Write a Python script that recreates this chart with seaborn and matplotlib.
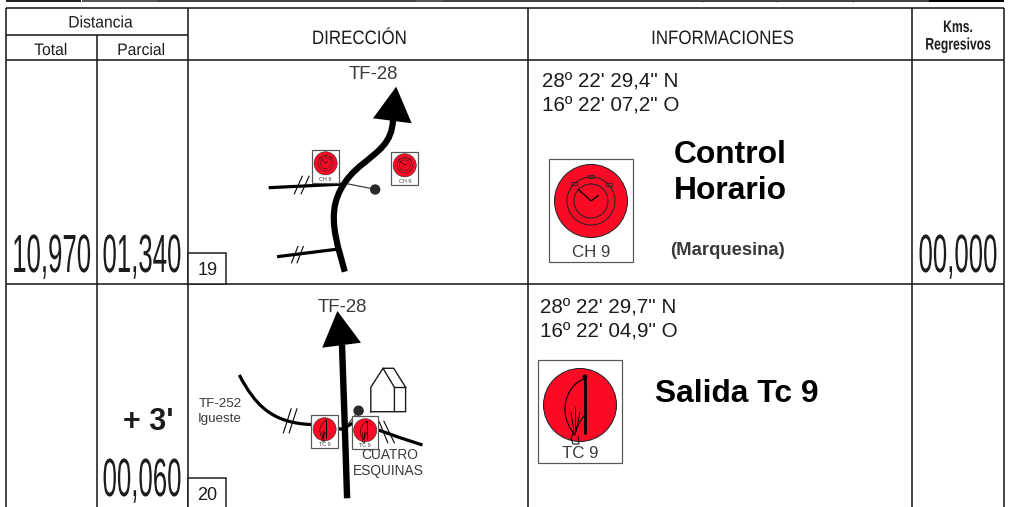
#!/bin/env python

import matplotlib
matplotlib.use('agg')
import matplotlib.pyplot as plt
from matplotlib.patches import Circle, PathPatch, Polygon, Rectangle
from matplotlib.path import Path
from matplotlib.patheffects import AbstractPathEffect
from matplotlib.transforms import Affine2D
import seaborn as sns

INK = '#1c1c1c'
GREY = '#3a3a3a'
RED = '#fb0a26'

# top edge of the previous table row: left, right, colour
strip_left = [6, 82, 157, 416, 443, 929]
strip_right = [81, 157, 416, 443, 929, 1004]
strip_color = ['#222222', '#555555', '#444444', '#555555', '#444444', '#000000']
strip_ticks = [702, 777, 853]

# table rules
col_x = [6, 96.5, 187.5, 528, 912, 1004]
row_top, row_sub, row_head, row_mid, row_end = 7.5, 34.5, 59.5, 284, 507

# upper road book box, the main road is a chain of cubic beziers
main1 = [(344.8, 271.7), (339, 250), (330, 225), (335.5, 203),
         (340, 185), (352, 172), (364, 163),
         (378, 151), (392, 143), (393, 120)]
head1 = [(396.2, 86.7), (373, 118.3), (411.7, 123.3)]
side1a_x, side1a_y = [268.7, 344.8], [187.7, 184]
side1b_x, side1b_y = [277.1, 336.3], [256.7, 249.3]
link1_x, link1_y = [344.8, 375.2], [183.3, 189.3]
ticks1 = [((294.1, 302.5), (194.3, 175.7)), ((300.9, 309.3), (194.3, 175.7)),
          ((291.3, 298.1), (263.3, 246)), ((296.9, 303.5), (263.3, 246))]
dot1 = (375.2, 189.5)

# lower road book box
main2 = [(347.1, 498.3), (345.5, 450), (344, 400), (342, 345)]
head2 = [(337.4, 311), (322.2, 347.7), (361, 342.7)]
side2a = [(239.3, 375), (255, 405), (272, 423), (311, 424.5)]
side2a_x, side2a_y = [311, 342.7], [424.5, 429.3]
side2b_x = [342.7, 352.9, 378.5, 398.8, 422.5]
side2b_y = [429, 423, 430, 437.3, 445]
link2_x, link2_y = [358.6, 344.8], [410.7, 428.3]
ticks2 = [((283.2, 291.3), (433.3, 408.3)), ((289, 297.1), (433.3, 408.3)),
          ((379.2, 388), (421.7, 443.3)), ((383.6, 394.6), (420.7, 443.3))]
dot2 = (358.6, 410.7)
house_x = [370.8, 370.8, 383, 394.4, 394.4, 370.8]
house_y = [411.7, 387.3, 368.3, 387.3, 411.7, 411.7]
house_back_x = [383, 393.7, 405.6, 405.6, 394.4]
house_back_y = [368.3, 368.3, 387.3, 411.7, 411.7]
house_eave_x, house_eave_y = [394.4, 405.6], [387.3, 387.3]

# flag drawn in the TC sign, offsets from the sign corner
flag = [(47, 19), (32, 22), (16, 50), (37, 75)]
flag_back = [(47, 55), (42, 60), (38, 68), (37, 75)]
tassel = [((36, 33), (72, 52)), ((37, 37), (72, 47)), ((38, 42), (72, 52))]
knot_x = [36, 33, 35, 41, 40]
knot_y = [72, 78, 84, 84, 76]


class Tall(AbstractPathEffect):
    # the source uses condensed type, so stretch the glyphs up from the baseline
    def __init__(self, sy):
        super().__init__()
        self.sy = sy

    def draw_path(self, renderer, gc, tpath, affine, rgbFace=None):
        base = affine.transform_point((0, 0))[1]
        stretch = Affine2D().translate(0, -base).scale(1, self.sy).translate(0, base)
        renderer.draw_path(gc, tpath, affine + stretch, rgbFace)


def px(n):
    return n * 0.72


def label(ax, x, y, s, size, sx=None, ha='center', weight='normal', color=INK, z=6):
    t = ax.text(x, y, s, fontsize=size * (sx or 1), ha=ha, va='baseline', fontweight=weight, color=color, zorder=z)
    if sx:
        t.set_path_effects([Tall(1 / sx)])
    return t


def road(ax, xs, ys, width, color='black', z=2, cap='butt'):
    sns.lineplot(x=xs, y=ys, ax=ax, sort=False, estimator=None, color=color,
                 linewidth=px(width), solid_capstyle=cap, zorder=z, legend=False)


def curve(ax, pts, width, color='black', z=2):
    codes = [Path.MOVETO] + [Path.CURVE4] * (len(pts) - 1)
    ax.add_patch(PathPatch(Path(pts, codes), fc='none', ec=color, lw=px(width), capstyle='butt', zorder=z))


def sign(ax, x0, y0, s, kind, text):
    def line(xs, ys, width):
        road(ax, [x0 + v * s for v in xs], [y0 + v * s for v in ys], max(width * s, 0.5), z=5)

    def bend(pts, width):
        curve(ax, [(x0 + a * s, y0 + b * s) for a, b in pts], max(width * s, 0.5), z=5)

    ax.add_patch(Rectangle((x0, y0), 83.5 * s, 103 * s, fc='white', ec='#555555', lw=px(1.2), zorder=4))
    cx = 42
    cy = 42 if kind == 'CH' else 45
    ax.add_patch(Circle((x0 + cx * s, y0 + cy * s), 36.5 * s, fc=RED, ec='#222222', lw=px(1.0 * max(s, 0.5)), zorder=4.5))
    if kind == 'CH':
        for r in [24, 17]:
            ax.add_patch(Circle((x0 + cx * s, y0 + cy * s), r * s, fc='none', ec='#222222', lw=px(1.0 * max(s, 0.5)), zorder=5))
        line([cx, cx - 13], [cy, cy - 12], 1.2)
        line([cx, cx + 8], [cy, cy - 6], 1.2)
        for dx, dy in [(0, -25), (-17, -18), (18, -17)]:
            ax.add_patch(Rectangle((x0 + (cx + dx - 3) * s, y0 + (cy + dy - 1.5) * s), 6 * s, 3 * s,
                                   fc='none', ec='#222222', lw=px(0.8 * max(s, 0.5)), zorder=5))
    else:
        line([47, 47], [17, 74], 2.8)
        ax.add_patch(Circle((x0 + 47 * s, y0 + 17 * s), 2.5 * s, fc='black', ec='none', zorder=5))
        bend(flag, 1.1)
        bend(flag_back, 1.1)
        for xs, ys in tassel:
            line(xs, ys, 0.9)
        line(knot_x, knot_y, 1.0)
    label(ax, x0 + 42 * s, y0 + 98 * s, text, 12.2 * s, color=GREY)


def draw_table(ax):
    for left, right, c in zip(strip_left, strip_right, strip_color):
        ax.add_patch(Rectangle((left, 0), right - left, 1.6, fc=c, ec='none', zorder=1))
    ax.vlines(strip_ticks, 0, 1.6, color='#444444', lw=px(1))
    ax.vlines([col_x[0], col_x[2], col_x[3], col_x[4], col_x[5]], row_top, row_end, color=INK, lw=px(1.6), zorder=3)
    ax.vlines(col_x[1], row_sub, row_end, color=INK, lw=px(1.6), zorder=3)
    ax.hlines(row_top, col_x[0], col_x[5], color=INK, lw=px(1.6), zorder=3)
    ax.hlines(row_sub, col_x[0], col_x[2], color=INK, lw=px(1.6), zorder=3)
    ax.hlines([row_head, row_mid], col_x[0], col_x[5], color=INK, lw=px(1.6), zorder=3)
    ax.add_patch(Rectangle((187.5, 253), 38.5, 31, fc='white', ec=INK, lw=px(1.5), zorder=3))
    ax.add_patch(Rectangle((187.5, 478), 38.5, 40, fc='white', ec=INK, lw=px(1.5), zorder=3))


def draw_routes(ax):
    road(ax, side1a_x, side1a_y, 3.2)
    road(ax, side1b_x, side1b_y, 3.2)
    road(ax, link1_x, link1_y, 1.2, color=GREY)
    for xs, ys in ticks1:
        road(ax, list(xs), list(ys), 1.1)
    curve(ax, main1, 6.2, z=3)
    ax.add_patch(Polygon(head1, closed=True, fc='black', ec='none', zorder=3))
    ax.add_patch(Circle(dot1, 5.2, fc='#2a2a2a', ec='none', zorder=3))

    curve(ax, side2a, 3.2)
    road(ax, side2a_x, side2a_y, 3.2)
    road(ax, side2b_x, side2b_y, 3.2)
    road(ax, link2_x, link2_y, 1.2, color=GREY)
    for xs, ys in ticks2:
        road(ax, list(xs), list(ys), 1.1)
    curve(ax, main2, 6.4, z=3)
    ax.add_patch(Polygon(head2, closed=True, fc='black', ec='none', zorder=3))
    ax.add_patch(Circle(dot2, 5.2, fc='#2a2a2a', ec='none', zorder=3))
    road(ax, house_x, house_y, 1.4, color=INK, cap='projecting')
    road(ax, house_back_x, house_back_y, 1.4, color=INK, cap='projecting')
    road(ax, house_eave_x, house_eave_y, 1.4, color=INK)

    sign(ax, 312.3, 150, 0.317, 'CH', 'CH 9')
    sign(ax, 391.4, 152, 0.317, 'CH', 'CH 9')
    sign(ax, 311.3, 415, 0.317, 'TC', 'TC 9')
    sign(ax, 351.9, 416, 0.317, 'TC', 'TC 9')
    sign(ax, 549, 159, 1, 'CH', 'CH 9')
    sign(ax, 538, 360, 1, 'TC', 'TC 9')


def draw_text(ax):
    label(ax, 100.4, 27.5, 'Distancia', 12, sx=0.94)
    label(ax, 50.7, 55, 'Total', 12, sx=0.94)
    label(ax, 141, 55, 'Parcial', 12, sx=0.94)
    label(ax, 359, 44, 'DIRECCIÓN', 14, sx=0.87)
    label(ax, 722, 44, 'INFORMACIONES', 14, sx=0.87)
    label(ax, 958, 32, 'Kms.', 12, sx=0.73, weight='bold')
    label(ax, 958, 49.5, 'Regresivos', 12, sx=0.73, weight='bold')

    label(ax, 51.7, 272, '10,970', 38.7, sx=0.48)
    label(ax, 142, 272, '01,340', 38.7, sx=0.48)
    label(ax, 958, 272, '00,000', 38.7, sx=0.48)
    label(ax, 142, 496, '00,060', 38.7, sx=0.48)
    label(ax, 148.5, 430, "+ 3'", 22, weight='bold')

    label(ax, 373.7, 79, 'TF-28', 13.4, color=GREY)
    label(ax, 342.7, 312, 'TF-28', 13.4, color=GREY, z=2)
    label(ax, 207.4, 275, '19', 13)
    label(ax, 206.9, 500, '20', 13)
    label(ax, 220, 407, 'TF-252', 9.6, color=GREY)
    label(ax, 220, 422, 'Igueste', 9.6, color=GREY)
    label(ax, 389.4, 459, 'CUATRO', 9.9, color=GREY)
    label(ax, 388.4, 475, 'ESQUINAS', 9.9, color=GREY)

    label(ax, 542, 88, '28º 22\' 29,4" N', 14.9, ha='left')
    label(ax, 542, 112, '16º 22\' 07,2" O', 14.9, ha='left')
    label(ax, 540, 314, '28º 22\' 29,7" N', 14.9, ha='left')
    label(ax, 540, 338, '16º 22\' 04,9" O', 14.9, ha='left')
    label(ax, 674, 163, 'Control', 22.9, ha='left', weight='bold', color='black')
    label(ax, 674, 199, 'Horario', 22.9, ha='left', weight='bold', color='black')
    label(ax, 670, 255, '(Marquesina)', 13.3, ha='left', weight='bold', color=GREY)
    label(ax, 655, 402, 'Salida Tc 9', 22.9, ha='left', weight='bold', color='black')


def main():
    sns.set_theme(style='white')
    plt.rcParams['font.family'] = ['Liberation Sans', 'DejaVu Sans']

    fig = plt.figure(figsize=(10.09, 5.07), dpi=100)
    ax = fig.add_axes([0, 0, 1, 1])
    draw_table(ax)
    draw_routes(ax)
    draw_text(ax)
    ax.set_xlim(0, 1009)
    ax.set_ylim(507, 0)
    ax.axis('off')
    fig.savefig('out.png', dpi=100)
    plt.close('all')


if __name__ == '__main__':
    main()
